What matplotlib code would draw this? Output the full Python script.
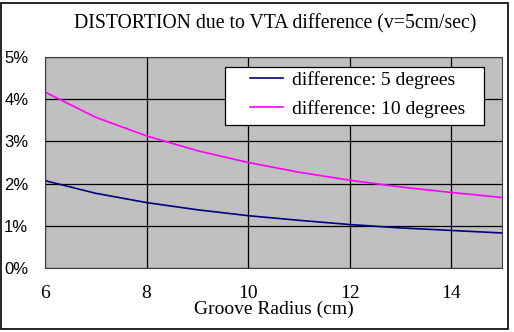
import matplotlib
matplotlib.use("Agg")
import matplotlib.pyplot as plt
from matplotlib.patches import Rectangle
from matplotlib.ticker import FuncFormatter

# groove radius (cm) and distortion (%)
radius = [6, 7, 8, 9, 10, 11, 12, 13, 14, 15]
dist_5deg = [2.07, 1.77, 1.55, 1.38, 1.24, 1.13, 1.03, 0.95, 0.89, 0.83]
dist_10deg = [4.17, 3.57, 3.13, 2.78, 2.50, 2.27, 2.08, 1.92, 1.79, 1.67]

x_ticks = [6, 8, 10, 12, 14]
y_ticks = [0, 1, 2, 3, 4, 5]

serif = ["Liberation Serif", "DejaVu Serif"]
sans = ["Liberation Sans", "DejaVu Sans"]

fig = plt.figure(figsize=(5.14, 3.32), dpi=100)
ax = fig.add_axes([45 / 514, 64 / 332, 457 / 514, 211 / 332])
ax.set_facecolor("#c0c0c0")

ax.plot(radius, dist_5deg, color="#000080", lw=1.2, label="difference: 5 degrees")
ax.plot(radius, dist_10deg, color="#ff00ff", lw=1.2, label="difference: 10 degrees")

ax.set_xlim(6, 15)
ax.set_ylim(0, 5)
ax.set_xticks(x_ticks)
ax.set_yticks(y_ticks)
ax.yaxis.set_major_formatter(FuncFormatter(lambda v, p: f"{v:.0f}%"))
ax.grid(True, color="black", lw=0.9)
ax.set_axisbelow(True)
ax.tick_params(length=0)
ax.tick_params(axis="x", pad=12)
ax.tick_params(axis="y", pad=12)
for lbl in ax.get_xticklabels():
    lbl.set_family(serif)
    lbl.set_fontsize(14)
for lbl in ax.get_yticklabels():
    lbl.set_family(sans)
    lbl.set_fontsize(12)
for sp in ax.spines.values():
    sp.set_color("#404040")
    sp.set_linewidth(0.8)

ax.set_xlabel("Groove Radius (cm)", family=serif, fontsize=14, labelpad=-1)

# legend box drawn separately so the padding matches the original
ax.add_patch(Rectangle((0.394, 0.678), 0.567, 0.275, transform=ax.transAxes,
                       facecolor="white", edgecolor="black", lw=0.9, zorder=3))
leg = ax.legend(loc="center left", bbox_to_anchor=(0.4486, 0.822),
                prop={"family": serif, "size": 14}, frameon=False,
                handlelength=1.7, handletextpad=0.46, borderpad=0,
                labelspacing=0.55, borderaxespad=0)
leg.set_zorder(5)

fig.text(275 / 514, 1 - 24 / 332, "DISTORTION due to VTA difference (v=5cm/sec)",
         family=serif, fontsize=14.2, ha="center", va="center")

fig.patches.append(Rectangle((1 / 514, 3 / 332), 507 / 514, 326 / 332,
                             transform=fig.transFigure, fill=False,
                             edgecolor="black", lw=1.2))

fig.savefig("out.png", dpi=100)
